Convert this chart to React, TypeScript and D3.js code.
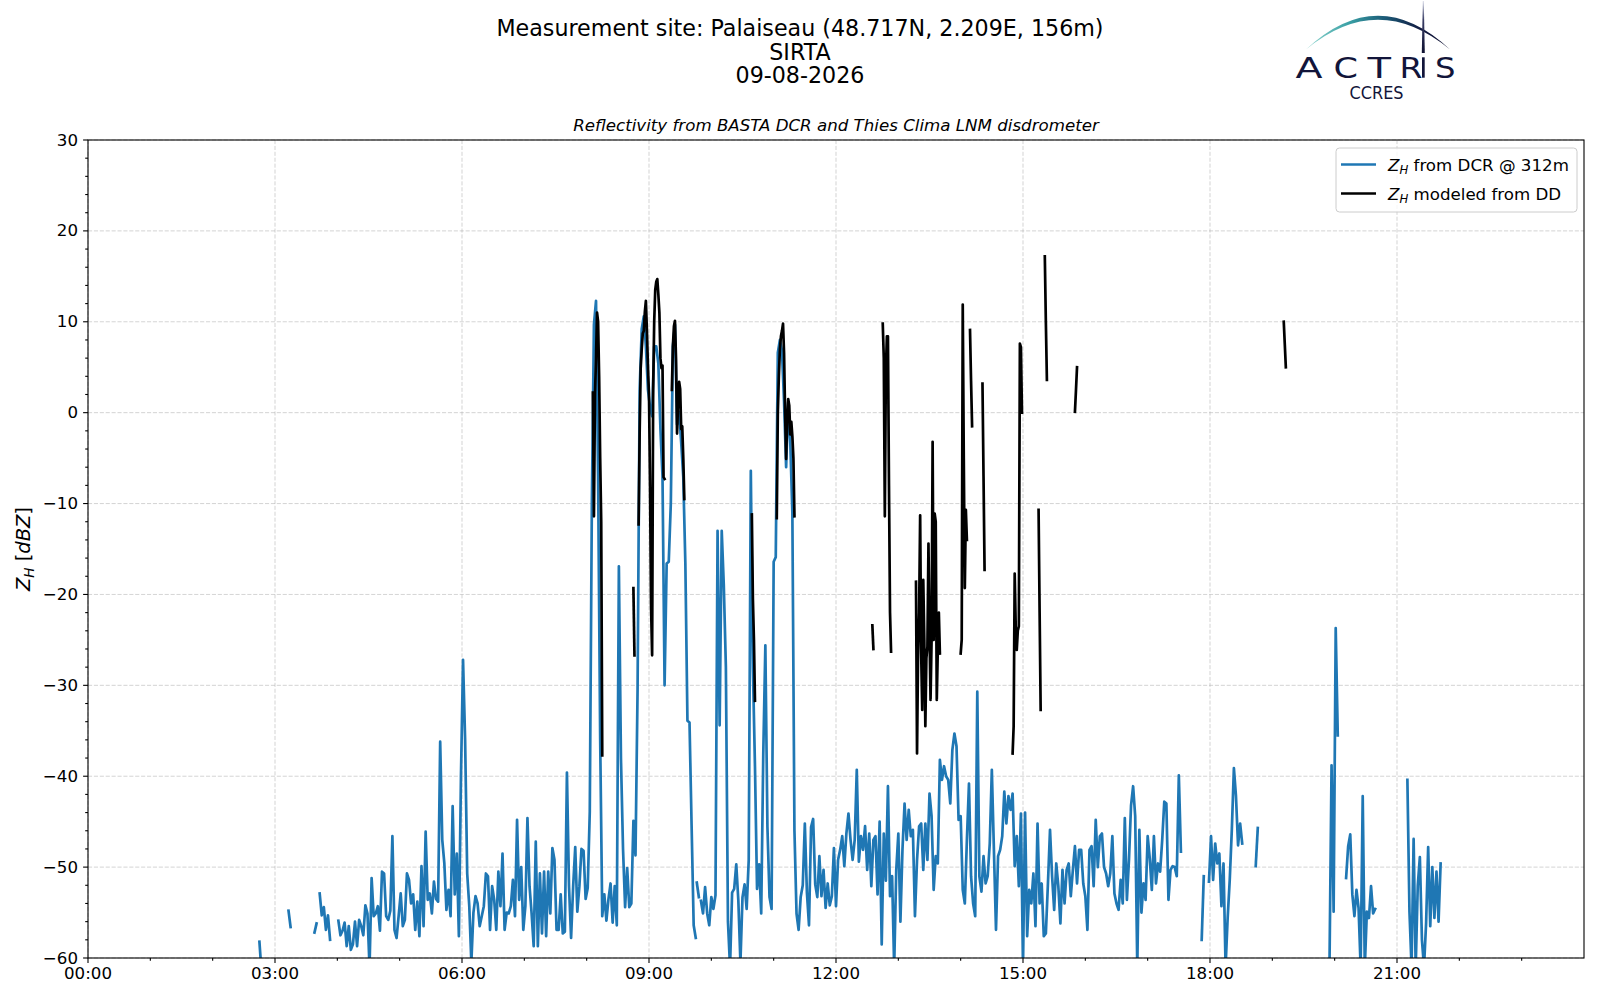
import React from 'react';
import * as d3 from 'd3';

// ---------------- DATA ----------------
const TITLE_LINES = ['Measurement site: Palaiseau (48.717N, 2.209E, 156m)', 'SIRTA', '09-08-2026'];
const SUBTITLE = 'Reflectivity from BASTA DCR and Thies Clima LNM disdrometer';
const LEGEND_DCR = ' from DCR @ 312m';
const LEGEND_DD = ' modeled from DD';

const X_MAJOR_HOURS = [0, 3, 6, 9, 12, 15, 18, 21];
const X_MINOR_HOURS = [1, 2, 4, 5, 7, 8, 10, 11, 13, 14, 16, 17, 19, 20, 22, 23];
const Y_MAJOR = [30, 20, 10, 0, -10, -20, -30, -40, -50, -60];
const Y_MINOR = [28, 26, 24, 22, 18, 16, 14, 12, 8, 6, 4, 2, -2, -4, -6, -8, -12, -14, -16, -18, -22, -24, -26, -28, -32, -34, -36, -38, -42, -44, -46, -48, -52, -54, -56, -58];

// DCR reflectivity @ 312 m, sampled every 2 minutes; each segment: start minute of day + values (dBZ)
const DCR_STEP_MIN = 2;
const dcrStarts = [165, 193, 218, 223, 241, 586, 590, 1072, 1079, 1124, 1195, 1211, 1270];
const dcrSeg01 = [-58.2, -61.5];
const dcrSeg02 = [-54.8, -56.6];
const dcrSeg03 = [-57.2, -56.2];
const dcrSeg04 = [-52.9, -55.3, -54.4, -56.9, -55.3, -58.0];
const dcrSeg05 = [
  -55.9, -57.5, -57.0, -56.1, -58.7, -56.5, -59.1, -58.5, -56.0, -58.7,
  -55.8, -56.5, -57.5, -54.2, -55.1, -61.0, -51.2, -55.4, -55.1, -54.3,
  -57.0, -50.5, -50.7, -55.4, -55.8, -54.8, -46.6, -56.9, -57.8, -55.4,
  -52.9, -56.5, -55.8, -50.7, -51.4, -54.0, -53.0, -56.9, -53.8, -57.6,
  -49.9, -56.5, -46.1, -53.6, -52.9, -55.1, -51.6, -53.5, -53.8, -36.2,
  -47.0, -49.6, -54.7, -52.5, -55.4, -43.3, -53.0, -48.5, -57.6, -40.0,
  -27.2, -36.0, -50.7, -54.3, -60.5, -55.0, -53.2, -54.0, -56.5, -55.4,
  -54.3, -50.7, -51.0, -56.9, -52.1, -53.6, -56.9, -50.5, -54.3, -48.5,
  -56.9, -55.0, -55.1, -54.3, -51.4, -55.4, -44.8, -53.6, -50.0, -56.9,
  -54.3, -44.6, -52.1, -55.1, -58.7, -47.2, -58.7, -50.7, -57.3, -50.5,
  -57.6, -50.5, -55.1, -47.9, -49.2, -56.9, -56.9, -53.0, -57.3, -57.1,
  -39.6, -52.1, -57.8, -52.1, -47.8, -54.9, -52.1, -48.0, -48.2, -53.5,
  -52.3, -43.9, -10.0, 9.7, 12.3, -7.0, -35.8, -55.4, -53.0, -55.9,
  -53.5, -51.8, -56.1, -52.1, -56.4, -16.9, -38.0, -48.0, -54.4, -50.1,
  -54.4, -54.0, -44.9, -48.7, -30.5, 2.5, 9.2, 10.6, 7.3, 2.5,
  0.6, -0.4, 7.3, 7.3, 5.4, -1.8, -7.0, -30.0, -16.6, -16.4,
  -10.0, 7.3, 9.7, -1.3, 0.1, -3.3, -7.1, -16.6, -33.9, -34.1,
  -45.4, -56.4, -57.8,
];
const dcrSeg06 = [-51.7, -53.3];
const dcrSeg07 = [
  -53.7, -55.1, -52.2, -55.1, -56.4, -53.3, -54.6, -53.1, -13.0, -34.4,
  -13.0, -19.0, -28.0, -56.0, -61.0, -52.8, -52.4, -49.7, -53.7, -60.5,
  -53.3, -51.9, -54.6, -49.2, -6.4, -28.0, -38.9, -52.4, -49.7, -55.1,
  -37.5, -25.6, -45.6, -53.3, -54.6, -16.4, -15.9, 6.6, 8.0, 6.8,
  1.2, -6.0, 1.2, -3.3, -11.0, -46.0, -55.1, -56.9, -53.3, -52.0,
  -45.2, -52.8, -56.4, -45.6, -44.7, -51.9, -53.3, -48.8, -53.2, -50.3,
  -54.5, -51.8, -54.2, -53.2, -47.9, -54.3, -49.2, -48.1, -46.6, -49.9,
  -46.3, -44.1, -47.0, -49.2, -47.0, -39.3, -49.4, -46.6, -48.1, -45.5,
  -50.3, -46.3, -52.1, -47.0, -46.6, -53.0, -45.0, -58.5, -46.3, -51.5,
  -41.1, -53.2, -51.0, -61.0, -50.3, -46.3, -56.0, -48.0, -43.0, -47.0,
  -43.7, -46.6, -45.9, -55.4, -49.2, -45.5, -45.2, -50.3, -45.2, -49.2,
  -41.9, -44.4, -52.5, -48.8, -49.6, -38.2, -40.4, -38.9, -40.0, -40.4,
  -43.0, -37.1, -35.3, -36.7, -44.8, -44.4, -52.5, -54.0, -47.0, -40.8,
  -51.0, -54.0, -55.4, -30.7, -51.0, -52.7, -48.8, -51.8, -51.0, -47.4,
  -39.3, -48.1, -56.9, -48.8, -48.1, -46.6, -41.7, -45.2, -42.2, -43.7,
  -41.9, -49.9, -46.6, -52.1, -44.1, -61.0, -44.0, -57.6, -52.5, -54.0,
  -50.7, -56.5, -45.2, -54.0, -51.8, -57.6, -57.3, -51.8, -45.9, -51.0,
  -54.7, -49.6, -52.1, -56.2, -50.3, -54.0, -50.3, -49.6, -53.2, -50.3,
  -47.7, -51.8, -48.1, -48.1, -51.8, -53.2, -56.9, -48.1, -47.7, -52.1,
  -44.8, -50.0, -46.6, -46.3, -50.0, -50.7, -52.1, -50.7, -46.6, -52.9,
  -54.0, -54.7, -51.4, -54.0, -44.6, -53.6, -49.2, -43.2, -41.1, -44.4,
  -61.0, -45.9, -55.0, -51.8, -53.6, -46.6, -49.0, -52.5, -46.6, -51.8,
  -49.6, -50.5, -47.0, -42.8, -43.0, -53.6, -50.3, -49.9, -50.0, -51.0,
  -39.9, -48.3,
];
const dcrSeg08 = [-58.0, -51.0];
const dcrSeg09 = [-51.6, -46.6, -51.4, -47.4, -49.6, -48.5, -54.3, -49.6, -61.0, -55.6, -51.4, -45.9, -39.1, -42.2, -47.6, -45.2, -47.4];
const dcrSeg10 = [-49.9, -45.7];
const dcrSeg11 = [-61.0, -38.8, -54.9, -23.7, -35.5];
const dcrSeg12 = [-51.2, -47.7, -46.4, -53.0, -55.4, -52.5, -54.5, -61.0, -42.2, -61.0, -54.9, -55.6, -52.1, -55.1, -54.6];
const dcrSeg13 = [-40.4, -54.9, -61.0, -46.9, -61.0, -52.0, -48.9, -58.0, -61.0, -56.2, -47.8, -56.5, -50.0, -55.6, -50.5, -56.0, -49.6];
const dcrSegments = [dcrSeg01, dcrSeg02, dcrSeg03, dcrSeg04, dcrSeg05, dcrSeg06, dcrSeg07, dcrSeg08, dcrSeg09, dcrSeg10, dcrSeg11, dcrSeg12, dcrSeg13];

// Disdrometer-modeled reflectivity, 1-minute samples
const DD_STEP_MIN = 1;
const ddStarts = [486, 525, 530, 562, 639, 663, 755, 765, 797, 840, 849, 861, 890, 915, 921, 950, 1151];
const ddSeg01 = [2.2, -11.4, 2.0, 6.0, 11.0, 10.0, 4.0, -5.0, -12.0, -37.7];
const ddSeg02 = [-19.3, -26.7];
const ddSeg03 = [-12.3, -2.3, 4.9, 7.0, 8.7, 9.0, 11.1, 12.3, 9.0, 5.0, 2.0, -8.0, -21.4, -26.7, 2.5, 10.0, 13.5, 14.4, 14.7, 13.0, 11.0, 6.0, 4.9, 5.2, -7.1, -7.3];
const ddSeg04 = [2.5, 7.3, 9.5, 10.1, 6.0, -2.3, 1.0, 3.4, 2.6, -1.8, -1.5, -5.0, -9.5];
const ddSeg05 = [-11.2, -20.5, -25.0, -31.7];
const ddSeg06 = [-11.6, 0.0, 4.0, 7.0, 8.4, 9.0, 9.8, 6.6, 0.0, -5.1, -1.0, 1.5, 0.8, -2.4, -1.0, -2.6, -5.0, -11.4];
const ddSeg07 = [-23.4, -26.0];
const ddSeg08 = [9.8, 6.0, -11.4, 4.7, 8.4, 8.4, -8.0, -22.0, -26.3];
const ddSeg09 = [-18.6, -37.5, -26.5, -22.0, -11.3, -26.5, -32.7, -18.4, -25.0, -34.5, -27.0, -25.7, -14.4, -24.0, -31.6, -25.0, -3.2, -25.0, -11.1, -12.0, -31.6, -26.0, -22.0, -26.5];
const ddSeg10 = [-26.5, -25.0, 11.9, -5.0, -19.3, -10.7, -14.0];
const ddSeg11 = [9.1, 3.5, -1.5];
const ddSeg12 = [3.2, -7.0, -17.3];
const ddSeg13 = [-37.5, -34.5, -17.7, -23.5, -26.1, -24.0, -23.5, 7.6, 7.2, 0.0];
const ddSeg14 = [-10.7, -22.0, -32.7];
const ddSeg15 = [17.2, 10.0, 3.6];
const ddSeg16 = [0.1, 2.5, 5.0];
const ddSeg17 = [10.0, 7.5, 5.0];
const ddSegments = [ddSeg01, ddSeg02, ddSeg03, ddSeg04, ddSeg05, ddSeg06, ddSeg07, ddSeg08, ddSeg09, ddSeg10, ddSeg11, ddSeg12, ddSeg13, ddSeg14, ddSeg15, ddSeg16, ddSeg17];

// ---------------- LAYOUT ----------------
const W = 1600;
const H = 1000;
const PL = 88, PR = 1584, PT = 140, PB = 958;
const FONT = 'DejaVu Sans, Verdana, sans-serif';
const BLUE = '#1f77b4';
const NAVY = '#12153a';
const LW = 2.7;

const x = d3.scaleLinear().domain([0, 24]).range([PL, PR]);
const y = d3.scaleLinear().domain([-60, 30]).range([PB, PT]);

const line = d3.line<[number, number]>().x(d => x(d[0] / 60)).y(d => y(d[1]));

function toPoints(start: number, step: number, values: number[]): [number, number][] {
  return values.map((v, i) => [start + i * step, v] as [number, number]);
}

const fmtHour = (h: number) => `${String(h).padStart(2, '0')}:00`;
const fmtY = (v: number) => String(v).replace('-', '\u2212');

function Logo() {
  return (
    <g>
      <defs>
        <linearGradient id="arcGrad" x1="1306" y1="0" x2="1450" y2="0" gradientUnits="userSpaceOnUse">
          <stop offset="0" stopColor="#8fd6cf" />
          <stop offset="0.3" stopColor="#3aa0a5" />
          <stop offset="0.55" stopColor="#1b5a77" />
          <stop offset="0.8" stopColor="#121a40" />
          <stop offset="1" stopColor="#0e1030" />
        </linearGradient>
        <linearGradient id="vGrad" x1="0" y1="1" x2="0" y2="54" gradientUnits="userSpaceOnUse">
          <stop offset="0" stopColor="#d8dbe8" />
          <stop offset="0.35" stopColor="#3a3e66" />
          <stop offset="1" stopColor="#0e1030" />
        </linearGradient>
      </defs>
      <path d="M1306,49.5 Q1378,-18 1450,49.5 Q1378,-10 1306,49.5 Z" fill="url(#arcGrad)" />
      <path d="M1422.8,1 L1423.8,1 L1424.8,53 L1421.8,53 Z" fill="url(#vGrad)" />
      <g fill={NAVY} fontFamily={FONT} fontSize={27.8}>
        <text x={1295.5} y={77.7} textLength={27} lengthAdjust="spacingAndGlyphs">A</text>
        <text x={1333.5} y={77.7} textLength={24.5} lengthAdjust="spacingAndGlyphs">C</text>
        <text x={1367.5} y={77.7} textLength={23.5} lengthAdjust="spacingAndGlyphs">T</text>
        <text x={1399.5} y={77.7} textLength={23} lengthAdjust="spacingAndGlyphs">R</text>
        <text x={1435} y={77.7} textLength={20.5} lengthAdjust="spacingAndGlyphs">S</text>
      </g>
      <rect x={1422} y={57.3} width={2.7} height={20.4} fill={NAVY} />
      <text x={1349.5} y={99} fill={NAVY} fontFamily={FONT} fontSize={18} textLength={54} lengthAdjust="spacingAndGlyphs">CCRES</text>
    </g>
  );
}

export default function App() {
  const dcrPaths = dcrSegments.map((vals, i) => line(toPoints(dcrStarts[i], DCR_STEP_MIN, vals)) || '');
  const ddPaths = ddSegments.map((vals, i) => line(toPoints(ddStarts[i], DD_STEP_MIN, vals)) || '');

  return (
    <svg width={W} height={H} viewBox={`0 0 ${W} ${H}`} style={{ position: 'absolute', left: 0, top: 0, background: '#fff' }}
      xmlns="http://www.w3.org/2000/svg">
      <rect x={0} y={0} width={W} height={H} fill="#fff" />
      <defs>
        <clipPath id="plotClip">
          <rect x={PL} y={PT} width={PR - PL} height={PB - PT} />
        </clipPath>
      </defs>

      {/* Titles */}
      {TITLE_LINES.map((t, i) => (
        <text key={t} x={800} y={36.3 + i * 23.4} textAnchor="middle" fontFamily={FONT} fontSize={22.2} fill="#000">{t}</text>
      ))}
      <text x={(PL + PR) / 2} y={131} textAnchor="middle" fontFamily={FONT} fontSize={16.67} fontStyle="italic" fill="#000">{SUBTITLE}</text>

      <Logo />

      {/* Grid */}
      <g stroke="#b0b0b0" strokeOpacity={0.55} strokeWidth={1} strokeDasharray="4.1,1.8" fill="none">
        {X_MAJOR_HOURS.map(h => (
          <line key={'gx' + h} x1={x(h)} x2={x(h)} y1={PT} y2={PB} />
        ))}
        {Y_MAJOR.map(v => (
          <line key={'gy' + v} x1={PL} x2={PR} y1={y(v)} y2={y(v)} />
        ))}
      </g>

      {/* Data */}
      <g clipPath="url(#plotClip)" fill="none" strokeLinejoin="round" strokeLinecap="square">
        {dcrPaths.map((d, i) => (
          <path key={'dcr' + i} d={d} stroke={BLUE} strokeWidth={LW} />
        ))}
        {ddPaths.map((d, i) => (
          <path key={'dd' + i} d={d} stroke="#000" strokeWidth={LW} />
        ))}
      </g>

      {/* Axes frame */}
      <rect x={PL} y={PT} width={PR - PL} height={PB - PT} fill="none" stroke="#000" strokeWidth={1.1} />

      {/* Ticks */}
      <g stroke="#000" strokeWidth={1.1}>
        {X_MAJOR_HOURS.map(h => (
          <line key={'xt' + h} x1={x(h)} x2={x(h)} y1={PB} y2={PB + 4.9} />
        ))}
        {X_MINOR_HOURS.map(h => (
          <line key={'xm' + h} x1={x(h)} x2={x(h)} y1={PB} y2={PB + 2.8} />
        ))}
        {Y_MAJOR.map(v => (
          <line key={'yt' + v} x1={PL - 4.9} x2={PL} y1={y(v)} y2={y(v)} />
        ))}
        {Y_MINOR.map(v => (
          <line key={'ym' + v} x1={PL - 2.8} x2={PL} y1={y(v)} y2={y(v)} />
        ))}
      </g>
      <g fontFamily={FONT} fontSize={16.67} fill="#000">
        {X_MAJOR_HOURS.map(h => (
          <text key={'xl' + h} x={x(h)} y={979} textAnchor="middle">{fmtHour(h)}</text>
        ))}
        {Y_MAJOR.map(v => (
          <text key={'yl' + v} x={78} y={y(v)} textAnchor="end" dominantBaseline="central">{fmtY(v)}</text>
        ))}
      </g>

      {/* Y label */}
      <text transform={`translate(29.5,${(PT + PB) / 2}) rotate(-90)`} textAnchor="middle" fontFamily={FONT} fontSize={19.44} fill="#000" style={{ whiteSpace: 'pre' }}>
        <tspan fontStyle="italic">Z</tspan>
        <tspan fontStyle="italic" fontSize={13.6} dy={4}>H</tspan>
        <tspan dy={-4}>{' ['}</tspan>
        <tspan fontStyle="italic">dBZ</tspan>
        <tspan>]</tspan>
      </text>

      {/* Legend */}
      <g>
        <rect x={1336} y={148} width={241} height={64} rx={3.5} fill="#fff" fillOpacity={0.8} stroke="#cccccc" strokeWidth={1} />
        <line x1={1341} x2={1376} y1={164.5} y2={164.5} stroke={BLUE} strokeWidth={LW} />
        <line x1={1341} x2={1376} y1={193.5} y2={193.5} stroke="#000" strokeWidth={LW} />
        <g fontFamily={FONT} fontSize={16.67} fill="#000" style={{ whiteSpace: 'pre' }}>
          <text x={1388} y={170.5}>
            <tspan fontStyle="italic">Z</tspan>
            <tspan fontStyle="italic" fontSize={11.7} dy={3.5}>H</tspan>
            <tspan dy={-3.5}>{LEGEND_DCR}</tspan>
          </text>
          <text x={1388} y={199.5}>
            <tspan fontStyle="italic">Z</tspan>
            <tspan fontStyle="italic" fontSize={11.7} dy={3.5}>H</tspan>
            <tspan dy={-3.5}>{LEGEND_DD}</tspan>
          </text>
        </g>
      </g>
    </svg>
  );
}
